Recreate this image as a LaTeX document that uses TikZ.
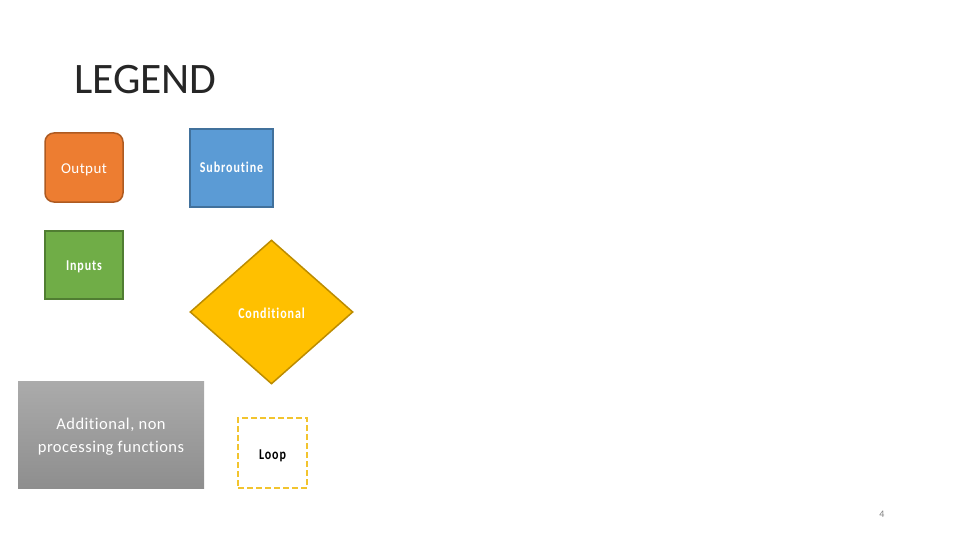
\documentclass[tikz,border=0pt]{standalone}
\usepackage{fontspec}
\setmainfont[Ligatures=NoCommon]{Carlito}
\newfontfamily\condfont[FakeStretch=0.8,LetterSpace=6,Ligatures=NoCommon]{Carlito}
\newfontfamily\spacedfont[LetterSpace=3,Ligatures=NoCommon]{Carlito}
\newcommand\shifttext[2]{\raisebox{#1}[\height][\depth]{#2}}
\usetikzlibrary{shapes.geometric}
\definecolor{orangeF}{HTML}{ED7D31}
\definecolor{orangeD}{HTML}{AE5A21}
\definecolor{blueF}{HTML}{5B9BD5}
\definecolor{blueD}{HTML}{41719C}
\definecolor{greenF}{HTML}{70AD47}
\definecolor{greenD}{HTML}{507E32}
\definecolor{goldF}{HTML}{FFC000}
\definecolor{goldD}{HTML}{BC8C00}
\definecolor{grayT}{HTML}{ABABAB}
\definecolor{grayB}{HTML}{8E8E8E}
\definecolor{loopD}{HTML}{F2C42E}
\definecolor{titleC}{HTML}{262626}
\tikzset{
  box/.style={draw, line width=1.5pt, inner sep=0pt, text=white, font=\condfont\bfseries\fontsize{15}{17}\selectfont},
}
\begin{document}
\begin{tikzpicture}[x=1pt,y=-1pt]
\useasboundingbox (0,0) rectangle (960,540);
\node[anchor=west, text=titleC, font=\fontsize{43.5}{48}\selectfont, inner sep=0pt] (title) at (74,80) {LEGEND};
\node[box, rounded corners=9pt, fill=orangeF, draw=orangeD, minimum width=78pt, minimum height=69pt, font=\spacedfont\fontsize{15}{17}\selectfont] (output) at (84,167.5) {\shifttext{-2pt}{Output}};
\node[box, fill=blueF, draw=blueD, minimum width=83pt, minimum height=78pt] (sub) at (231.5,168) {\shifttext{1pt}{Subroutine}};
\node[box, fill=greenF, draw=greenD, minimum width=78pt, minimum height=68pt] (inputs) at (84,265) {\shifttext{-2pt}{Inputs}};
\node[box, diamond, fill=goldF, draw=goldD, minimum width=163pt, minimum height=144pt] (cond) at (271.5,312) {\shifttext{-1pt}{Conditional}};
\node[inner sep=0pt, minimum width=186pt, minimum height=107pt, top color=grayT, bottom color=grayB, draw=none, text=white, align=center, font=\spacedfont\fontsize{16.5}{22}\selectfont] (extra) at (111,434.5) {\shifttext{-2pt}{\begin{tabular}{@{}c@{}}Additional, non\\[1pt]processing functions\end{tabular}}};
\node[draw=loopD, dashed, dash pattern=on 6pt off 3pt, line width=1.5pt, fill=white, minimum width=69pt, minimum height=70pt, inner sep=0pt, text=black, font=\condfont\bfseries\fontsize{15}{17}\selectfont] (loop) at (272.5,453) {\shifttext{-3pt}{Loop}};
\node[text=gray, font=\fontsize{10}{12}\selectfont, inner sep=0pt] (page) at (882,514) {4};
\end{tikzpicture}
\end{document}
